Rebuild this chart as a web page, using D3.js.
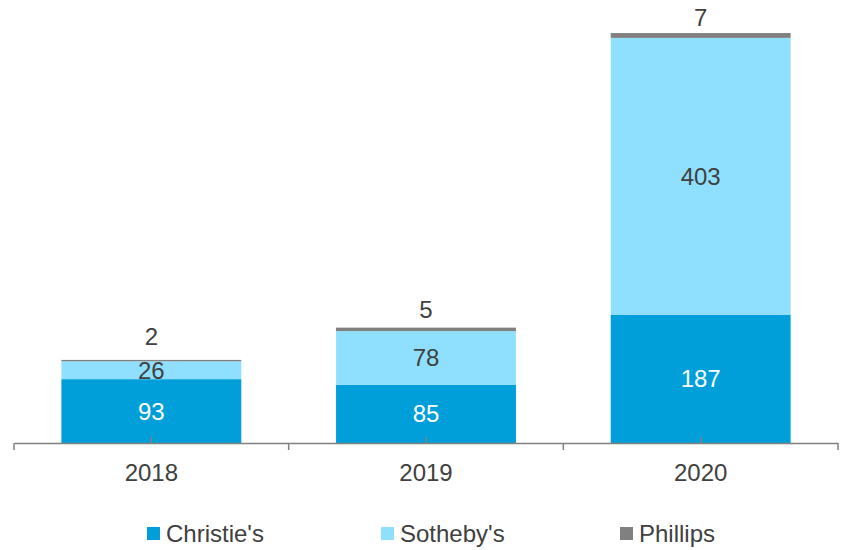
<!DOCTYPE html>
<html>
<head>
<meta charset="utf-8">
<script src="https://cdn.jsdelivr.net/npm/d3@7"></script>
<style>
  html, body { margin: 0; padding: 0; background: #fff; }
  svg { display: block; font-family: "Liberation Sans", Arial, sans-serif; }
</style>
</head>
<body>
<svg id="chart" width="843" height="550"></svg>
<script>
const years = ["2018", "2019", "2020"];
const seriesNames = ["Christie's", "Sotheby's", "Phillips"];
const christies = [93, 85, 187];
const sothebys = [26, 78, 403];
const phillips = [2, 5, 7];
const colors = ["#009fda", "#8fe0ff", "#808080"];

const svg = d3.select("#chart");
const baseY = 443;

const x = d3.scaleBand().domain(years).range([14, 838]).padding(0);
const y = d3.scaleLinear().domain([0, 600]).range([baseY, 31]);
const barW = x.bandwidth() * 0.655;

const table = years.map((yr, i) => ({
  year: yr,
  "Christie's": christies[i],
  "Sotheby's": sothebys[i],
  "Phillips": phillips[i]
}));
const stack = d3.stack().keys(seriesNames)(table);

const textColor = "#404040";
const axisColor = "#808080";

// bars
const layers = svg.append("g").selectAll("g").data(stack).join("g")
  .attr("fill", (d, i) => colors[i]);
layers.selectAll("rect").data(d => d).join("rect")
  .attr("x", d => x(d.data.year) + (x.bandwidth() - barW) / 2)
  .attr("width", barW)
  .attr("y", d => y(d[1]))
  .attr("height", d => y(d[0]) - y(d[1]));

// axis
const axisG = svg.append("g").attr("transform", `translate(0,${baseY})`);
axisG.call(d3.axisBottom(x).tickSize(0).tickPadding(0));
axisG.select(".domain").attr("stroke", axisColor).attr("stroke-width", 1.5);
axisG.selectAll(".tick text")
  .attr("fill", textColor)
  .attr("font-size", 24)
  .attr("font-family", '"Liberation Sans", Arial, sans-serif')
  .attr("dy", null)
  .attr("y", 38);
// band-edge ticks (down)
const edges = years.map(yv => x(yv)).concat([x(years[years.length - 1]) + x.bandwidth()]);
axisG.selectAll("line.edge").data(edges).join("line")
  .attr("class", "edge")
  .attr("x1", d => d).attr("x2", d => d)
  .attr("y1", 0).attr("y2", 7)
  .attr("stroke", axisColor).attr("stroke-width", 1.5);
// center ticks (up)
axisG.selectAll("line.mid").data(years).join("line")
  .attr("class", "mid")
  .attr("x1", d => x(d) + x.bandwidth() / 2).attr("x2", d => x(d) + x.bandwidth() / 2)
  .attr("y1", -6).attr("y2", 0)
  .attr("stroke", axisColor).attr("stroke-width", 1.5);

// value labels
const labelG = svg.append("g")
  .attr("font-size", 24)
  .attr("text-anchor", "middle");
const topGap = [15, 10, 7];
stack.forEach((layer, si) => {
  layer.forEach((d, i) => {
    const cx = x(d.data.year) + x.bandwidth() / 2;
    const val = d[1] - d[0];
    let ty, fill;
    if (si === 2) {
      ty = y(d[1]) - topGap[i];
      fill = textColor;
    } else {
      ty = (y(d[0]) + y(d[1])) / 2 + 8.5;
      fill = si === 0 ? "#ffffff" : textColor;
    }
    labelG.append("text")
      .attr("x", cx)
      .attr("y", ty)
      .attr("fill", fill)
      .text(val);
  });
});

// legend
const legendX = [147, 381, 620];
const lg = svg.append("g");
seriesNames.forEach((name, i) => {
  lg.append("rect")
    .attr("x", legendX[i]).attr("y", 527)
    .attr("width", 13).attr("height", 13)
    .attr("fill", colors[i]);
  lg.append("text")
    .attr("x", legendX[i] + 19).attr("y", 542)
    .attr("font-size", 24)
    .attr("fill", textColor)
    .text(name);
});
</script>
</body>
</html>
